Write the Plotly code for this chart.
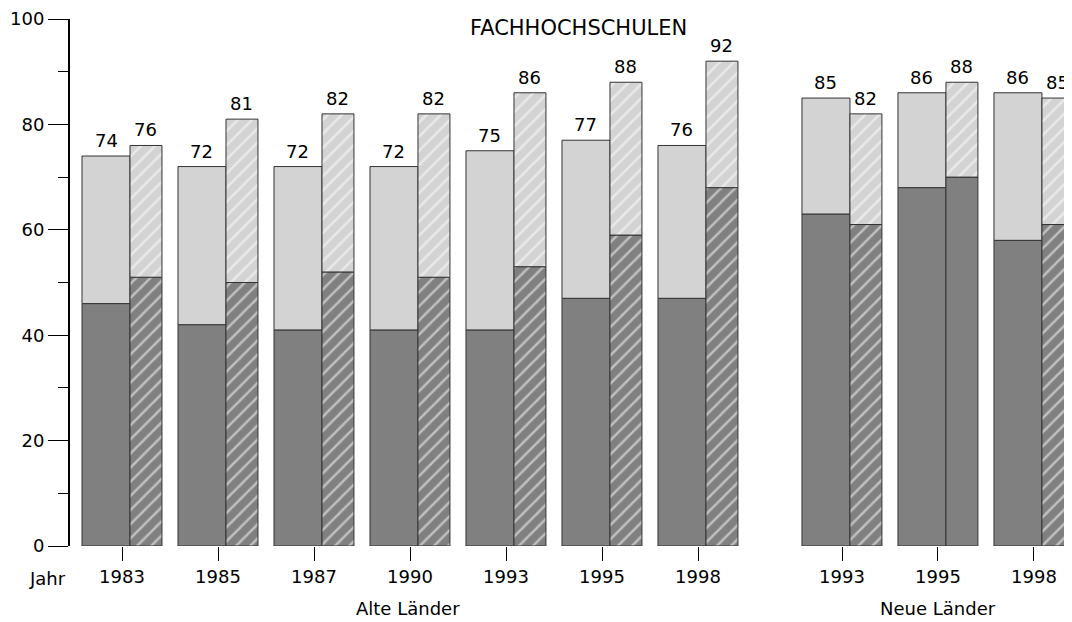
import plotly.graph_objects as go

# Data
years = ["1983", "1985", "1987", "1990", "1993", "1995", "1998", "1993", "1995", "1998"]
group_pos = [0, 1, 2, 3, 4, 5, 6, 7.5, 8.5, 9.5]
total_a = [74, 72, 72, 72, 75, 77, 76, 85, 86, 86]
bottom_a = [46, 42, 41, 41, 41, 47, 47, 63, 68, 58]
total_b = [76, 81, 82, 82, 86, 88, 92, 82, 88, 85]
bottom_b = [51, 50, 52, 51, 53, 59, 68, 61, 70, 61]
hatch_bottom_b = ["/", "/", "/", "/", "/", "/", "/", "/", "", "/"]

DARK = "#808080"
LIGHT = "#d3d3d3"
EDGE = "#333333"
FONT = "DejaVu Sans, Arial, sans-serif"
FS = 18

# bar geometry (in x-axis units)
wa, wb = 0.5, 0.333
xa = [p - 0.417 + wa / 2 for p in group_pos]
xb = [p + 0.083 + wb / 2 for p in group_pos]

top_a = [t - b for t, b in zip(total_a, bottom_a)]
top_b = [t - b for t, b in zip(total_b, bottom_b)]

line = dict(color=EDGE, width=1)
hatch = dict(fgcolor="white", fillmode="overlay", size=10, solidity=0.25)
fig = go.Figure()
fig.add_trace(go.Bar(x=xa, y=bottom_a, base=[0] * len(xa), width=wa,
                     marker=dict(color=DARK, line=line), hoverinfo="skip"))
fig.add_trace(go.Bar(x=xa, y=top_a, base=bottom_a, width=wa,
                     marker=dict(color=LIGHT, line=line), hoverinfo="skip"))
fig.add_trace(go.Bar(x=xb, y=bottom_b, base=[0] * len(xb), width=wb,
                     marker=dict(color=DARK, line=line,
                                 pattern=dict(shape=hatch_bottom_b, **hatch)),
                     hoverinfo="skip"))
fig.add_trace(go.Bar(x=xb, y=top_b, base=bottom_b, width=wb,
                     marker=dict(color=LIGHT, line=line,
                                 pattern=dict(shape="/", **hatch)),
                     hoverinfo="skip"))

# value labels
for xs, vals in ((xa, total_a), (xb, total_b)):
    for x, v in zip(xs, vals):
        fig.add_annotation(x=x, y=v, text=str(v), showarrow=False,
                           yanchor="bottom", yshift=3,
                           font=dict(size=FS, color="black", family=FONT))

# page-pixel geometry of plot area (page body has an 8px margin)
BODY = 8
L, T, R, B = 70, 19, 1072, 546
W, H = 1072, 622
fig.update_layout(
    width=W, height=H,
    margin=dict(l=L - BODY, r=W + BODY - R, t=T - BODY, b=H - (T - BODY) - (B - T)),
    paper_bgcolor="white", plot_bgcolor="white",
    barmode="overlay", showlegend=False,
    font=dict(family=FONT, size=FS, color="black"),
    xaxis=dict(range=[-0.542, 9.896], tickvals=group_pos, ticktext=years,
               ticks="outside", ticklen=14, tickwidth=1, tickcolor="black",
               showgrid=False, zeroline=False, showline=False, automargin=False,
               tickfont=dict(size=FS, family=FONT)),
    yaxis=dict(range=[0, 100], tickvals=[0, 20, 40, 60, 80, 100],
               ticks="outside", ticklen=20, tickwidth=1, tickcolor="black",
               minor=dict(tickvals=[10, 30, 50, 70, 90], ticks="outside", ticklen=10,
                          tickwidth=1, tickcolor="black"),
               showline=True, linecolor="black", linewidth=2, automargin=False,
               showgrid=False, zeroline=False,
               tickfont=dict(size=FS, family=FONT)),
)

labels = [
    ("FACHHOCHSCHULEN", 578, 28, 21),
    ("Jahr", 47, 578, FS),
    ("Alte Länder", 408, 608, FS),
    ("Neue Länder", 938, 608, FS),
]
pw, ph = R - L, B - T
for txt, px, py, size in labels:
    fig.add_annotation(text=txt, x=(px - L) / pw, y=(B - py) / ph,
                       xref="paper", yref="paper", showarrow=False,
                       xanchor="center", yanchor="middle",
                       font=dict(size=size, family=FONT, color="black"))

fig.write_html("out.html")
